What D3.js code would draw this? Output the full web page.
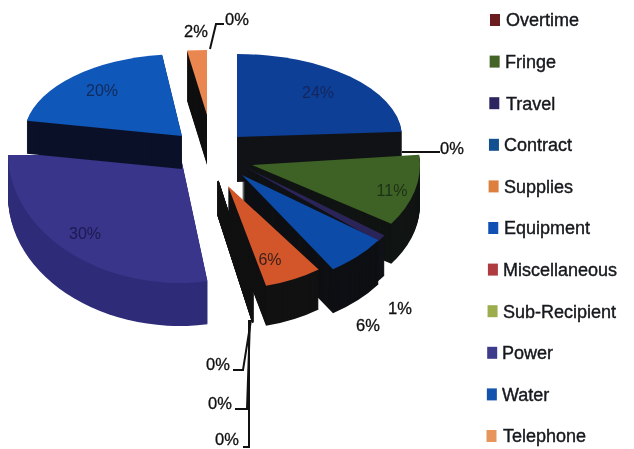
<!DOCTYPE html>
<html><head><meta charset="utf-8">
<script src="https://cdn.jsdelivr.net/npm/d3@7/dist/d3.min.js"></script>
<style>
html,body{margin:0;padding:0;background:#fff;overflow:hidden}
svg{display:block;filter:blur(0.55px)}
text{font-family:"Liberation Sans",Arial,sans-serif}
</style></head><body>
<svg id="c" width="634" height="449"></svg>
<script>
// --- data ---
const sliceNames = ["Personnel","Overtime","Fringe","Travel","Contract","Supplies","Equipment","Miscellaneous","Sub-Recipient","Power","Water","Telephone","Other"];
const sliceValues = [24,0,11,1,6,6,0,0,0,30,20,2,0];
const legendNames = ["Overtime","Fringe","Travel","Contract","Supplies","Equipment","Miscellaneous","Sub-Recipient","Power","Water","Telephone"];
const legendColors = ["#6a1c1e","#436426","#2b2560","#12508f","#dd7f3e","#1050b4","#ad3b40","#9bad4c","#3c3b8c","#1353ae","#e6965c"];
const sliceColors = ["#0e3f96","#6a1c1e","#3e6125","#2a2458","#0d4ba8","#d3552a","#1050b4","#ad3b40","#9bad4c","#38358a","#0f57b8","#ea8650","#333"];

// --- layout of each exploded, tilted slice (not data) ---
const sliceCx    = [237,402,252,247,242,228,218,218,218,180,182,207,210];
const sliceCy    = [137,130,165,168,175,186,180,180,180,153,136,115,50];
const sliceRx    = [165,  1,168,170,168,155,165,165,165,172,158,160,  1];
const sliceRy    = [ 83,  1,105,115,112,103,110,110,110,130, 82, 65,  1];
const sliceDepth = [ 45,  0, 40, 40, 44, 40, 35, 35, 35, 43, 33, 50,  0];
const sliceRot   = [  0,  0, -2,  0, -4, -7, -5, -5, -5, -2,  0,  0,  0];
const sideColors = ["#111316","#111","#101412","#101218","#0e1014","#121212","#111","#111","#111","url(#powerSide)","#0b1128","#0f0f0f","#111"];
const drawOrder  = [9,0,1,11,10,2,3,4,6,7,8,5,12];
const clipTop    = {9:155};

const insideLabels = [["24%",318,92,"#14265e"],["20%",102,90,"#122a5c"],["11%",392,190,"#1c3214"],["6%",270,259,"#3a2018"],["30%",85,233,"#1c1a50"]];
const outsideLabels = [["2%",196,31],["0%",237,19],["0%",452,148],["1%",400,308],["6%",368,325],["0%",218,364],["0%",220,403],["0%",227,439]];
const leaderLines = [
  [[210,49],[216,24],[224,24]],
  [[402,152],[440,152]],
  [[233,370],[243,370],[251,320]],
  [[235,409],[247,409],[250,320]],
  [[243,447],[249,447],[249,320]]
];

const svg = d3.select("#c");
const defs = svg.append("defs");
const grad = defs.append("linearGradient").attr("id","powerSide").attr("gradientUnits","userSpaceOnUse")
  .attr("x1",10).attr("x2",150).attr("y1",0).attr("y2",0);
grad.append("stop").attr("offset",0).attr("stop-color","#2e2c78");
grad.append("stop").attr("offset",.45).attr("stop-color","#27265e");
grad.append("stop").attr("offset",1).attr("stop-color","#11122a");
defs.append("clipPath").attr("id","clip9").append("rect").attr("x",0).attr("y",155).attr("width",300).attr("height",294);

const pie = d3.pie().sort(null).value(d=>d)(sliceValues);
const arc = d3.arc().innerRadius(0).outerRadius(100);
const deg = Math.PI/180;

drawOrder.forEach(i=>{
  const p = pie[i];
  const d = arc({startAngle:p.startAngle+sliceRot[i]*deg,endAngle:p.endAngle+sliceRot[i]*deg});
  const sx = sliceRx[i]/100, sy = sliceRy[i]/100;
  const g = svg.append("g");
  if (clipTop[i]) g.attr("clip-path","url(#clip"+i+")");
  const zero = sliceValues[i]===0;
  if (zero && sliceDepth[i]===0) return;
  g.selectAll("path.side").data(d3.range(sliceDepth[i],0,-1)).join("path")
    .attr("class","side")
    .attr("d",d)
    .attr("transform",k=>`translate(${sliceCx[i]},${sliceCy[i]+k}) scale(${sx},${sy})`)
    .attr("fill",zero?"none":sideColors[i])
    .attr("stroke",zero?"#111":"none")
    .attr("stroke-width",1.5)
    .attr("vector-effect","non-scaling-stroke");
  if(!zero) g.append("path").attr("d",d)
    .attr("transform",`translate(${sliceCx[i]},${sliceCy[i]}) scale(${sx},${sy})`)
    .attr("fill",sliceColors[i]);
});

// leader lines
const line = d3.line();
svg.selectAll("path.lead").data(leaderLines).join("path").attr("class","lead")
  .attr("d",line).attr("fill","none").attr("stroke","#111").attr("stroke-width",2);

// labels
svg.selectAll("text.ins").data(insideLabels).join("text").attr("class","ins")
  .attr("x",d=>d[1]).attr("y",d=>d[2]).attr("dy","0.36em").attr("text-anchor","middle")
  .attr("font-size",16).attr("fill",d=>d[3]).text(d=>d[0]);
svg.selectAll("text.out").data(outsideLabels).join("text").attr("class","out")
  .attr("x",d=>d[1]).attr("y",d=>d[2]).attr("dy","0.36em").attr("text-anchor","middle")
  .attr("font-size",16.5).attr("fill","#111").attr("stroke","#111").attr("stroke-width",0.3).text(d=>d[0]);

// legend
const ly = d3.scaleLinear().domain([0,legendNames.length-1]).range([20,436]);
const lx = d3.scaleLinear().domain([0,legendNames.length-1]).range([490,486.5]);
const textX = [506,505,506,504,504,504,503,503,502,502,503];
const leg = svg.selectAll("g.leg").data(legendNames).join("g").attr("class","leg");
leg.append("rect").attr("x",(d,i)=>lx(i)).attr("y",(d,i)=>ly(i)-6).attr("width",10).attr("height",12)
  .attr("fill",(d,i)=>legendColors[i]);
leg.append("text").attr("x",(d,i)=>textX[i]).attr("y",(d,i)=>ly(i)).attr("dy","0.36em")
  .attr("font-size",18).attr("fill","#15181c").attr("stroke","#15181c").attr("stroke-width",0.4).text(d=>d);
</script>
</body></html>
